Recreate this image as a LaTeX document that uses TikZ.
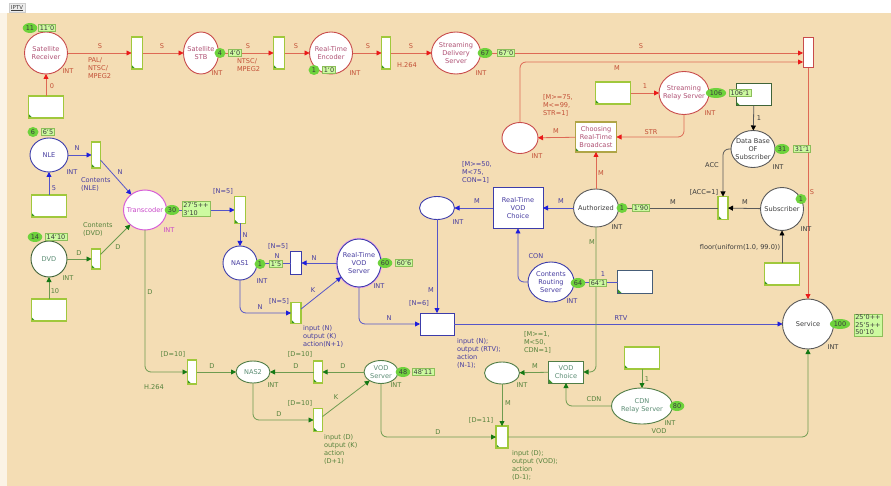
\documentclass[tikz,border=0pt]{standalone}
\usepackage{fontspec}
\setmainfont{DejaVu Sans}
\usetikzlibrary{shapes.geometric,arrows.meta,calc}
\definecolor{bg}{RGB}{244,221,180}
\definecolor{redl}{RGB}{222,105,85}
\definecolor{redarr}{RGB}{235,25,25}
\definecolor{redt}{RGB}{195,80,55}
\definecolor{redp}{RGB}{200,75,75}
\definecolor{redpt}{RGB}{175,80,115}
\definecolor{bluel}{RGB}{85,85,200}
\definecolor{bluearr}{RGB}{30,30,220}
\definecolor{bluet}{RGB}{70,60,160}
\definecolor{bluep}{RGB}{60,60,170}
\definecolor{greenl}{RGB}{110,155,80}
\definecolor{greenarr}{RGB}{20,120,20}
\definecolor{greent}{RGB}{85,130,60}
\definecolor{greenp}{RGB}{80,125,70}
\definecolor{greenpt}{RGB}{90,140,115}
\definecolor{grayl}{RGB}{90,90,90}
\definecolor{grayt}{RGB}{60,60,60}
\definecolor{magp}{RGB}{215,95,215}
\definecolor{magt}{RGB}{200,70,200}
\definecolor{tbord}{RGB}{160,200,60}
\definecolor{cornerc}{RGB}{60,150,40}
\definecolor{tokf}{RGB}{110,210,60}
\definecolor{markf}{RGB}{205,250,160}
\definecolor{markb}{RGB}{140,190,90}
\definecolor{olivec}{RGB}{175,165,70}
\tikzset{
  every node/.style={inner sep=0pt, outer sep=0pt},
  pl/.style={ellipse, draw, fill=white, line width=0.9pt, align=center, inner xsep=-8pt, inner ysep=-4pt, font=\fontsize{6.6}{8}\selectfont},
  tr/.style={rectangle, draw=tbord, fill=white, line width=1.3pt, align=center, font=\fontsize{6.6}{8}\selectfont,
    path picture={\fill[cornerc] (path picture bounding box.south west) -- ++(4pt,0pt) -- ++(-4pt,4pt) -- cycle;}},
  trb/.style={rectangle, draw=bluep, fill=white, line width=0.9pt, align=center, font=\fontsize{6.6}{8}\selectfont},
  ib/.style={tr, minimum width=35pt, minimum height=22pt},
  tok/.style={ellipse, fill=tokf, minimum width=11pt, minimum height=10pt, inner xsep=1pt, font=\fontsize{6.5}{7}\selectfont, text=grayt},
  mk/.style={rectangle, fill=markf, draw=markb, line width=0.6pt, inner xsep=1.5pt, inner ysep=1pt, align=left, font=\fontsize{6.5}{7.5}\selectfont, text=grayt},
  lb/.style={font=\fontsize{6.6}{8}\selectfont},
  lbl/.style={lb, anchor=north west, align=left},
  ra/.style={draw=redl, line width=0.8pt, rounded corners=6pt, -{Triangle[length=5pt,width=5pt,color=redarr]}},
  ba/.style={draw=bluel, line width=0.8pt, rounded corners=6pt, -{Triangle[length=5pt,width=5pt,color=bluearr]}},
  ga/.style={draw=greenl, line width=0.8pt, rounded corners=6pt, -{Triangle[length=5pt,width=5pt,color=greenarr]}},
  ka/.style={draw=grayl, line width=0.8pt, rounded corners=6pt, -{Triangle[length=5pt,width=5pt,color=black]}},
}
\begin{document}
\begin{tikzpicture}[x=1pt,y=-1pt]
\useasboundingbox (0,0) rectangle (891,486);
\fill[white] (0,0) rectangle (891,486);
\fill[bg!35!white] (0,13) rectangle (7,486);
\fill[bg] (7,13) rectangle (891,486);
\node[fill=gray!15, draw=gray!40, line width=0.4pt, inner xsep=2pt, inner ysep=1.5pt, font=\fontsize{5.5}{6}\selectfont, text=grayt] (tab) at (17,8) {\underline{IPTV}};

% ---------- places ----------
\node[pl, draw=redp, text=redpt, minimum width=43pt, minimum height=42pt] (sr) at (46,53) {Satellite\\Receiver};
\node[pl, draw=redp, text=redpt, minimum width=35pt, minimum height=42pt] (stb) at (201,53) {Satellite\\STB};
\node[pl, draw=redp, text=redpt, minimum width=43pt, minimum height=42pt] (rte) at (331,53) {Real-Time\\Encoder};
\node[pl, draw=redp, text=redpt, minimum width=49pt, minimum height=42pt] (sds) at (456,53) {Streaming\\Delivery\\Server};
\node[pl, draw=redp, text=redpt, minimum width=50pt, minimum height=43pt] (srs) at (684,93) {Streaming\\Relay Server};
\node[pl, draw=redp, minimum width=36pt, minimum height=31pt] (rc) at (520,138) {};
\node[pl, draw=grayl, text=grayt, minimum width=44pt, minimum height=37pt] (db) at (753,149) {Data Base\\OF\\Subscriber};
\node[pl, draw=grayl, text=grayt, minimum width=43pt, minimum height=43pt] (sub) at (782,209) {Subscriber};
\node[pl, draw=grayl, text=grayt, minimum width=45pt, minimum height=38pt] (auth) at (596,208) {Authorized};
\node[pl, draw=grayl, text=grayt, minimum width=51pt, minimum height=50pt] (serv) at (808,324) {Service};
\node[pl, draw=bluep, text=bluet, minimum width=38pt, minimum height=34pt] (nle) at (49,155) {NLE};
\node[pl, draw=bluep, text=bluet, minimum width=34pt, minimum height=34pt] (nas1) at (240,263) {NAS1};
\node[pl, draw=bluep, text=bluet, minimum width=44pt, minimum height=48pt, preaction={draw=magp!60, line width=2.4pt}] (rtvs) at (359,263) {Real-Time\\VOD\\Server};
\node[pl, draw=bluep, minimum width=35pt, minimum height=23pt] (be) at (437,208) {};
\node[pl, draw=bluep, text=bluet, minimum width=46pt, minimum height=40pt] (crs) at (551,282) {Contents\\Routing\\Server};
\node[pl, draw=magp, text=magt, minimum width=43pt, minimum height=40pt, line width=1pt] (tc) at (145,210) {Transcoder};
\node[pl, draw=greenp!80!black, text=greenpt, minimum width=36pt, minimum height=36pt] (dvd) at (49,259) {DVD};
\node[pl, draw=greenp, text=greenpt, minimum width=34pt, minimum height=22pt] (nas2) at (253,372) {NAS2};
\node[pl, draw=greenp, text=greenpt, minimum width=34pt, minimum height=23pt] (vods) at (381,372) {VOD\\Server};
\node[pl, draw=greenp, minimum width=35pt, minimum height=22pt] (ge) at (502,373) {};
\node[pl, draw=greenp, text=greenpt, minimum width=61pt, minimum height=36pt] (cdn) at (642,406) {CDN\\Relay Server};

% ---------- transitions ----------
\node[tr, minimum width=11pt, minimum height=32pt] (t1) at (137,53) {};
\node[tr, minimum width=11pt, minimum height=32pt] (t2) at (279,53) {};
\node[tr, minimum width=9pt, minimum height=32pt] (t3) at (386,53) {};
\node[rectangle, draw=redp, fill=white, line width=1pt, minimum width=10pt, minimum height=30pt] (t4) at (808,53) {};
\node[tr, minimum width=9pt, minimum height=26pt] (t6) at (96,155) {};
\node[tr, minimum width=9pt, minimum height=20pt] (t7) at (96,259) {};
\node[tr, minimum width=11pt, minimum height=27pt] (t8) at (240,210) {};
\node[trb, minimum width=11pt, minimum height=23pt] (t9) at (296,263) {};
\node[tr, minimum width=10pt, minimum height=21pt] (t10) at (296,313) {};
\node[trb, minimum width=34pt, minimum height=22pt] (t11) at (437,324) {};
\node[trb, text=bluet, minimum width=50pt, minimum height=41pt] (rtvc) at (518,208) {Real-Time\\VOD\\Choice};
\node[tr, draw=olivec, text=redpt, minimum width=41pt, minimum height=30pt] (crb) at (596,137) {Choosing\\Real-Time\\Broadcast};
\node[tr, minimum width=10pt, minimum height=23pt] (t5) at (723,208) {};
\node[tr, draw=greenp, text=greenpt, line width=1pt, minimum width=35pt, minimum height=22pt] (vc) at (566,372) {VOD\\Choice};
\node[tr, minimum width=12pt, minimum height=22pt] (t12) at (502,437) {};
\node[tr, minimum width=9pt, minimum height=22pt] (t13) at (318,372) {};
\node[tr, minimum width=9pt, minimum height=24pt] (t14) at (192,372) {};
\node[tr, minimum width=9pt, minimum height=23pt] (t15) at (318,420) {};

% ---------- initial-marking boxes ----------
\node[ib] (ib1) at (46,107) {};
\node[ib] (ib2) at (49,206) {};
\node[ib] (ib3) at (49,310) {};
\node[ib] (ib4) at (613,93) {};
\node[ib, draw=greenp!80!black, line width=1pt] (ib5) at (754,95) {};
\node[ib] (ib6) at (782,274) {};
\node[ib, draw=bluep!50!greenp, line width=1pt] (ib7) at (635,282) {};
\node[ib] (ib8) at (642,358) {};

% ---------- arcs ----------
\draw[ra] (ib1) -- (sr);
\draw[ra] (sr) -- (t1);
\draw[ra] (t1) -- (stb);
\draw[ra] (stb) -- (t2);
\draw[ra] (t2) -- (rte);
\draw[ra] (rte) -- (t3);
\draw[ra] (t3) -- (sds);
\draw[ra] (sds) -- (t4);
\draw[ra] (rc.north) |- ($(t4.west)+(0,9)$);
\draw[ra] (t4) -- (serv);
\draw[ra] (ib4) -- (srs);
\draw[ra] (srs.south) |- (crb.east);
\draw[ra] (crb) -- (rc);
\draw[ra] (auth) -- (crb);

\draw[ka] (ib5) -- (db);
\draw[ka] (db.west) -| (t5.north);
\draw[ka] (sub) -- (t5);
\draw[ka] (t5) -- (auth);
\draw[ka] (ib6) -- (sub);

\draw[ba] (ib2) -- (nle);
\draw[ba] (nle) -- (t6);
\draw[ba] (t6) -- (tc);
\draw[ba] (tc) -- (t8);
\draw[ba] (t8) -- (nas1);
\draw[ba] (rtvs) -- (t9);
\draw[ba] (t9) -- (nas1);
\draw[ba] (nas1.south) |- (t10.west);
\draw[ba] (t10) -- (rtvs);
\draw[ba] (rtvs.south) |- (t11.west);
\draw[ba] (rtvc) -- (be);
\draw[ba] (auth) -- (rtvc);
\draw[ba] (be) -- (t11);
\draw[ba] (crs.west) -| (rtvc.south);
\draw[ba] (ib7) -- (crs);
\draw[ba] (t11) -- (serv);

\draw[ga] (ib3) -- (dvd);
\draw[ga] (dvd) -- (t7);
\draw[ga] (t7) -- (tc);
\draw[ga] (tc.south) |- (t14.west);
\draw[ga] (t14) -- (nas2);
\draw[ga] (vods) -- (t13);
\draw[ga] (t13) -- (nas2);
\draw[ga] (nas2.south) |- (t15.west);
\draw[ga] (t15) -- (vods);
\draw[ga] (vods.south) |- (t12.west);
\draw[ga] (auth.south) |- (vc.east);
\draw[ga] (vc) -- (ge);
\draw[ga] (ge) -- (t12);
\draw[ga] (ib8) -- (cdn);
\draw[ga] (cdn.west) -| (vc.south);
\draw[ga] (t12.east) -| (serv.south);

% ---------- labels: red ----------
\node[lb, text=redt] (r1) at (100,46) {S};
\node[lbl, text=redt] (r2) at (88,58) {PAL/\\NTSC/\\MPEG2};
\node[lb, text=redt] (r3) at (68,71) {INT};
\node[lb, text=redt] (r4) at (52,86) {0};
\node[lb, text=redt] (r5) at (162,46) {S};
\node[lb, text=redt] (r6) at (217,73) {INT};
\node[lb, text=redt] (r7) at (248,46) {S};
\node[lbl, text=redt] (r8) at (237,59) {NTSC/\\MPEG2};
\node[lb, text=redt] (r9) at (296,46) {S};
\node[lb, text=redt] (r10) at (355,73) {INT};
\node[lb, text=redt] (r11) at (368,46) {S};
\node[lb, text=redt] (r12) at (407,65) {H.264};
\node[lb, text=redt] (r13) at (411,46) {S};
\node[lb, text=redt] (r14) at (481,73) {INT};
\node[lb, text=redt] (r15) at (641,46) {S};
\node[lb, text=redt] (r16) at (617,68) {M};
\node[lb, text=redt] (r17) at (645,86) {1};
\node[lb, text=redt] (r18) at (710,113) {INT};
\node[lb, text=redt] (r19) at (651,132) {STR};
\node[lb, text=redt] (r20) at (556,131) {M};
\node[lbl, text=redt] (r21) at (543,94) {[M>=75,\\M<=99,\\STR=1]};
\node[lb, text=redt] (r22) at (537,156) {INT};
\node[lb, text=redt] (r23) at (601,173) {M};
\node[lb, text=redt] (r24) at (812,192) {S};

% ---------- labels: gray ----------
\node[lb, text=grayt] (k1) at (759,118) {1};
\node[lb, text=grayt] (k2) at (778,167) {INT};
\node[lb, text=grayt] (k3) at (712,165) {ACC};
\node[lb, text=grayt] (k4) at (704,192) {[ACC=1]};
\node[lb, text=grayt] (k5) at (745,202) {M};
\node[lb, text=grayt] (k6) at (673,202) {M};
\node[lb, text=grayt] (k7) at (617,227) {INT};
\node[lb, text=grayt] (k8) at (806,229) {INT};
\node[lb, text=grayt] (k9) at (740,247) {floor(uniform(1.0, 99.0))};
\node[lb, text=grayt] (k10) at (833,347) {INT};

% ---------- labels: blue ----------
\node[lb, text=bluet] (b1) at (77,148) {N};
\node[lb, text=bluet] (b2) at (72,172) {INT};
\node[lb, text=bluet] (b3) at (54,188) {5};
\node[lb, text=bluet] (b4) at (120,172) {N};
\node[lbl, text=bluet] (b5) at (81,178) {Contents\\(NLE)};
\node[lb, text=bluet] (b6) at (223,191) {[N=5]};
\node[lb, text=bluet] (b7) at (245,235) {N};
\node[lb, text=bluet] (b8) at (262,281) {INT};
\node[lb, text=bluet] (b9) at (278,246) {[N=5]};
\node[lb, text=bluet] (b10) at (277,256) {N};
\node[lb, text=bluet] (b11) at (314,258) {N};
\node[lb, text=bluet] (b12) at (379,286) {INT};
\node[lb, text=bluet] (b13) at (260,307) {N};
\node[lb, text=bluet] (b14) at (279,301) {[N=5]};
\node[lb, text=bluet] (b15) at (313,290) {K};
\node[lbl, text=bluet] (b16) at (303,325) {input (N)\\output (K)\\action(N+1)};
\node[lb, text=bluet] (b17) at (389,318) {N};
\node[lb, text=bluet] (b18) at (419,303) {[N=6]};
\node[lb, text=bluet] (b19) at (431,290) {M};
\node[lb, text=bluet] (b20) at (458,222) {INT};
\node[lb, text=bluet] (b21) at (477,201) {M};
\node[lbl, text=bluet] (b22) at (462,161) {[M>=50,\\M<75,\\CON=1]};
\node[lb, text=bluet] (b23) at (561,201) {M};
\node[lb, text=bluet] (b24) at (536,256) {CON};
\node[lb, text=bluet] (b25) at (572,301) {INT};
\node[lb, text=bluet] (b26) at (603,274) {1};
\node[lb, text=bluet] (b27) at (621,318) {RTV};
\node[lbl, text=bluet] (b28) at (457,338) {input (N);\\output (RTV);\\action\\(N-1);};
\node[lb, text=magt] (b29) at (169,230) {INT};

% ---------- labels: green ----------
\node[lb, text=greent] (g1) at (68,278) {INT};
\node[lb, text=greent] (g2) at (55,291) {10};
\node[lb, text=greent] (g3) at (79,253) {D};
\node[lb, text=greent] (g4) at (118,247) {D};
\node[lbl, text=greent] (g5) at (83,223) {Contents\\(DVD)};
\node[lb, text=greent] (g6) at (150,292) {D};
\node[lb, text=greent] (g7) at (173,354) {[D=10]};
\node[lb, text=greent] (g8) at (212,366) {D};
\node[lb, text=greent] (g9) at (154,387) {H.264};
\node[lb, text=greent] (g10) at (273,385) {INT};
\node[lb, text=greent] (g11) at (296,366) {D};
\node[lb, text=greent] (g12) at (343,366) {D};
\node[lb, text=greent] (g13) at (300,354) {[D=10]};
\node[lb, text=greent] (g14) at (396,385) {INT};
\node[lb, text=greent] (g15) at (279,414) {D};
\node[lb, text=greent] (g16) at (300,403) {[D=10]};
\node[lb, text=greent] (g17) at (336,397) {K};
\node[lbl, text=greent] (g18) at (324,434) {input (D)\\output (K)\\action\\(D+1)};
\node[lb, text=greent] (g19) at (438,432) {D};
\node[lb, text=greent] (g20) at (481,420) {[D=11]};
\node[lb, text=greent] (g21) at (508,403) {M};
\node[lbl, text=greent] (g22) at (512,450) {input (D);\\output (VOD);\\action\\(D-1);};
\node[lb, text=greent] (g23) at (535,366) {M};
\node[lb, text=greent] (g24) at (522,385) {INT};
\node[lbl, text=greent] (g25) at (524,331) {[M>=1,\\M<50,\\CDN=1]};
\node[lb, text=greent] (g26) at (592,242) {M};
\node[lb, text=greent] (g27) at (594,399) {CDN};
\node[lb, text=greent] (g28) at (647,379) {1};
\node[lb, text=greent] (g29) at (670,423) {INT};
\node[lb, text=greent] (g30) at (659,431) {VOD};

% ---------- tokens and markings ----------
\node[tok] (tk1) at (30,28) {11};
\node[mk] (mk1) at (47,28) {11`0};
\node[tok] (tk2) at (220,53) {4};
\node[mk] (mk2) at (235,53) {4`0};
\node[tok] (tk3) at (314,70) {1};
\node[mk] (mk3) at (329,70) {1`0};
\node[tok] (tk4) at (485,53) {67};
\node[mk] (mk4) at (506,53) {67`0};
\node[tok] (tk5) at (716,93) {106};
\node[mk] (mk5) at (740,93) {106`1};
\node[tok] (tk6) at (782,149) {31};
\node[mk] (mk6) at (802,149) {31`1};
\node[tok] (tk7) at (801,199) {1};
\node[tok] (tk8) at (622,208) {1};
\node[mk] (mk8) at (641,208) {1`90};
\node[tok] (tk9) at (33,132) {6};
\node[mk] (mk9) at (48,132) {6`5};
\node[tok] (tk10) at (35,237) {14};
\node[mk] (mk10) at (56,237) {14`10};
\node[tok] (tk11) at (172,210) {30};
\node[mk] (mk11) at (196,209) {27`5++\\3`10};
\node[tok] (tk12) at (260,264) {1};
\node[mk] (mk12) at (276,264) {1`5};
\node[tok] (tk13) at (385,263) {60};
\node[mk] (mk13) at (404,263) {60`6};
\node[tok] (tk14) at (578,283) {64};
\node[mk] (mk14) at (598,283) {64`1};
\node[tok] (tk15) at (403,372) {48};
\node[mk] (mk15) at (423,372) {48`11};
\node[tok] (tk16) at (677,406) {80};
\node[tok] (tk17) at (840,324) {100};
\node[mk] (mk17) at (868,325) {25`0++\\25`5++\\50`10};
\end{tikzpicture}
\end{document}
